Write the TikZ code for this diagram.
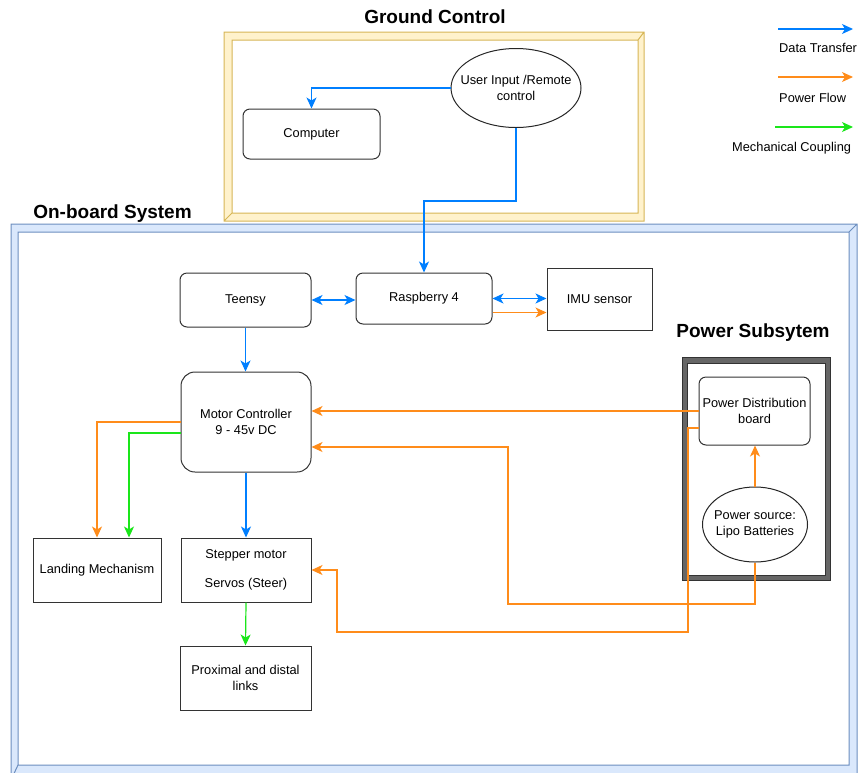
\documentclass[tikz,border=0pt]{standalone}
\usepackage{fontspec}
\setmainfont{Liberation Sans}
\usetikzlibrary{arrows.meta,calc,shapes.geometric}
\definecolor{datablue}{HTML}{007FFF}
\definecolor{powerorange}{HTML}{FF8C1A}
\definecolor{mechgreen}{HTML}{1AE61A}
\definecolor{gcfill}{HTML}{FFF2CC}
\definecolor{gcline}{HTML}{D6B656}
\definecolor{obfill}{HTML}{DAE8FC}
\definecolor{obline}{HTML}{6C8EBF}
\definecolor{psfill}{HTML}{666666}

\begin{document}
\begin{tikzpicture}[x=1pt,y=-1pt,>={Stealth[length=11pt,width=10pt,inset=3pt]},
    font=\fontsize{12.8}{15.5}\selectfont,
    block/.style={draw=black!80,line width=1pt,rounded corners=7pt,align=center,inner sep=2pt},
    plain/.style={draw=black!80,line width=1pt,align=center,inner sep=2pt},
    oval/.style={draw=black!85,line width=1pt,ellipse,inner sep=0pt},
    title/.style={font=\fontsize{19}{22}\selectfont\bfseries},
    data/.style={datablue,line width=1.2pt,->},
    power/.style={powerorange,line width=1.2pt,->},
    mech/.style={mechgreen,line width=1.2pt,->}]
  \useasboundingbox (0,0) rectangle (861,772);

  % frames
  \fill[obfill,even odd rule] (11,224) rectangle (857,780) (18,232) rectangle (849,765);
  \draw[obline,line width=1pt] (11,224) rectangle (857,780) (18,232) rectangle (849,765)
    (857,224) -- (849,232) (11,780) -- (18,765);
  \fill[gcfill,even odd rule] (224,32) rectangle (644,221) (232,40) rectangle (638,213);
  \draw[gcline,line width=1pt] (224,32) rectangle (644,221) (232,40) rectangle (638,213)
    (644,32) -- (638,40) (224,221) -- (232,213);
  \fill[psfill,even odd rule] (682,357) rectangle (830,580) (687,363) rectangle (825,575);
  \draw[black!80,line width=1pt] (682,357) rectangle (830,580) (687,363) rectangle (825,575);

  \node[title] (gctitle) at (435,17) {Ground Control};
  \node[title] (obtitle) at (112.5,214) {On-board System};
  \node[title] (pstitle) at (753,333) {Power Subsytem};

  \node[block,minimum width=137pt,minimum height=50pt] (comp) at (311.5,134) {Computer};
  \node[oval,minimum width=130pt,minimum height=79pt,
    label={[align=center]center:User Input /Remote\\control}] (user) at (516,88) {};
  \node[block,minimum width=131pt,minimum height=54pt] (teensy) at (245.5,300) {Teensy};
  \node[block,minimum width=136pt,minimum height=51pt] (rasp) at (424,298.5) {Raspberry 4};
  \node[plain,minimum width=105pt,minimum height=62pt] (imu) at (599.5,299) {IMU sensor};
  \node[block,rounded corners=14pt,minimum width=130pt,minimum height=100pt] (mc) at (246,422)
    {Motor Controller\\9 - 45v DC};
  \node[plain,minimum width=128pt,minimum height=64pt] (land) at (97,570) {Landing Mechanism};
  \node[plain,minimum width=130pt,minimum height=64pt] (servo) at (246,570)
    {Stepper motor\\[14pt]Servos (Steer)};
  \node[plain,minimum width=131pt,minimum height=64pt] (links) at (245.5,678)
    {Proximal and distal\\links};
  \node[block,fill=white,minimum width=111pt,minimum height=68pt] (pdb) at (754.5,411)
    {Power Distribution\\board};
  \node[oval,fill=white,minimum width=105pt,minimum height=75pt,
    label={[align=center]center:Power source:\\Lipo Batteries}] (bat) at (755,524.5) {};

  % legend
  \coordinate (dl0) at (778,29);  \coordinate (dl1) at (853,29);
  \coordinate (pl0) at (778,77);  \coordinate (pl1) at (853,77);
  \coordinate (ml0) at (775,127); \coordinate (ml1) at (853,127);
  \node[anchor=west,inner sep=0pt] (dtext) at (779,48) {Data Transfer};
  \node[anchor=west,inner sep=0pt] (ptext) at (779,98) {Power Flow};
  \node[anchor=west,inner sep=0pt] (mtext) at (732,148) {Mechanical Coupling};
  \draw[data] (dl0) -- (dl1);
  \draw[power] (pl0) -- (pl1);
  \draw[mech] (ml0) -- (ml1);

  \begin{scope}[data]
    \draw (user.west) -| (comp.north);
    \draw (user.south) -- ++(0,73) -| (rasp.north);
    \draw[<->] (teensy.east) -- (teensy.east -| rasp.west);
    \draw[<->] (rasp.east) -- (rasp.east -| imu.west);
    \draw (teensy.south) -- (teensy.south |- mc.north);
    \draw (mc.south) -- (servo.north);
  \end{scope}

  \coordinate (c1) at (688,632);
  \coordinate (c2) at (337,632);
  \coordinate (c3) at (508,604);
  \begin{scope}[power]
    \draw ($(rasp.east)+(0,14)$) -- ($(rasp.east -| imu.west)+(0,14)$);
    \draw (mc.west) -| (land.north);
    \draw (bat.north) -- (bat.north |- pdb.south);
    \draw (pdb.west) -- (pdb.west -| mc.east);
    \draw ($(pdb.west)+(0,17)$) -| (c1) -- (c2) |- (servo.east);
    \draw (bat.south) |- (c3) |- ($(mc.east)+(0,25)$);
  \end{scope}

  \begin{scope}[mech]
    \draw ($(mc.west)+(0,11)$) -| ($(land.north)+(32,0)$);
    \draw (servo.south) -- (links.north);
  \end{scope}
\end{tikzpicture}
\end{document}
